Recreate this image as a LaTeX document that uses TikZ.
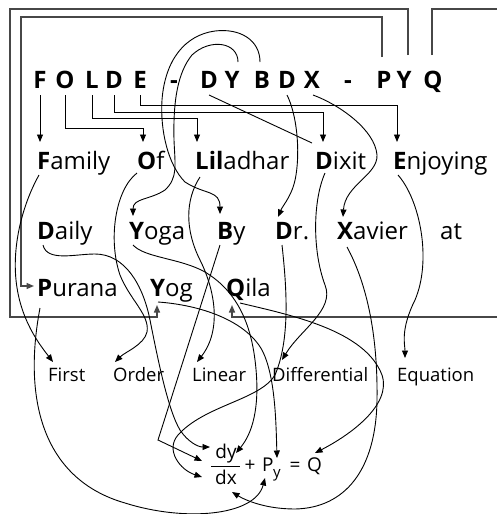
\documentclass[tikz,border=0pt]{standalone}
\usepackage{fontspec}
\setmainfont{Open Sans}
\usetikzlibrary{arrows.meta,calc}
\begin{document}
\begin{tikzpicture}[x=1pt,y=-1pt,
  ttl/.style={font=\fontsize{24}{28}\selectfont\bfseries, inner sep=0, anchor=base},
  wd/.style={font=\fontsize{24}{28}\selectfont, inner sep=0, anchor=base west},
  low/.style={font=\fontsize{18.5}{22}\selectfont, inner sep=0, anchor=base west},
  eqs/.style={font=\fontsize{19}{22}\selectfont, inner sep=0},
  frm/.style={draw=black!72, line width=1.5pt},
  lnk/.style={draw=black, line width=0.9pt},
  arr/.style={-{Triangle[length=7.5pt,width=6pt]}}]
\useasboundingbox (0,0) rectangle (496,514);
% title letters
\node[ttl] (tF) at (40,88) {F};
\node[ttl] (tO) at (65,88) {O};
\node[ttl] (tL) at (92,88) {L};
\node[ttl] (tD1) at (114,88) {D};
\node[ttl] (tE) at (140,88) {E};
\node[ttl] (tm1) at (174,88) {-};
\node[ttl] (tD2) at (209,88) {D};
\node[ttl] (tY1) at (232,88) {Y};
\node[ttl] (tB) at (262,88) {B};
\node[ttl] (tD3) at (287,88) {D};
\node[ttl] (tX) at (312,88) {X};
\node[ttl] (tm2) at (348,88) {-};
\node[ttl] (tP) at (384,88) {P};
\node[ttl] (tY2) at (404,88) {Y};
\node[ttl] (tQ) at (433,88) {Q};
% words
\node[wd] (Fam) at (37,169) {\textbf{F}amily};
\node[wd] (Of) at (137,169) {\textbf{O}f};
\node[wd] (Lil) at (195,169) {\textbf{Lil}adhar};
\node[wd] (Dix) at (315,169) {\textbf{D}ixit};
\node[wd] (Enj) at (393,169) {\textbf{E}njoying};
\node[wd] (Dai) at (37,239) {\textbf{D}aily};
\node[wd] (Yoga) at (129,239) {\textbf{Y}oga};
\node[wd] (By) at (217,239) {\textbf{B}y};
\node[wd] (Drn) at (275,239) {\textbf{D}r.};
\node[wd] (Xav) at (337,239) {\textbf{X}avier};
\node[wd] (At) at (440,239) {at};
\node[wd] (Pur) at (37,296) {\textbf{P}urana};
\node[wd] (Yog) at (150,296) {\textbf{Y}og};
\node[wd] (Qila) at (226,296) {\textbf{Q}ila};
\node[low] (Fst) at (48,381) {First};
\node[low] (Ord) at (113,381) {Order};
\node[low] (Lin) at (192,381) {Linear};
\node[low] (Dif) at (272,381) {Differential};
\node[low] (Equ) at (397,381) {Equation};
% equation
\node[eqs, anchor=base] (dy) at (226,458) {dy};
\node[eqs, anchor=base] (dxn) at (226,484) {dx};
\coordinate (barL) at (211,466);
\coordinate (barR) at (240,466);
\draw[lnk] (barL) -- (barR);
\node[eqs, anchor=base] (plus) at (250,471) {+};
\node[eqs, anchor=base west] (P) at (262,471) {P};
\node[eqs, anchor=base west, font=\fontsize{15}{18}\selectfont] (ysub) at (273,477) {y};
\node[eqs, anchor=base] (eqsign) at (295,471) {=};
\node[eqs, anchor=base west] (Qeq) at (307,471) {Q};
% frames
\draw[frm, arr] ($(tY2.base)+(4,-33)$) |- (10,9) |- ($(Yog.base west)+(7,21)$) -- ($(Yog.base west)+(7,9)$);
\draw[frm, arr] ($(tP.base)+(-2,-31)$) |- (21,17) |- ($(Pur.base west)+(-3,-10)$);
\draw[frm, arr] ($(tQ.base)+(-1,-33)$) |- (500,9) |- ($(Qila.base west)+(6,21)$) -- ($(Qila.base west)+(6,9)$);
% title to row 1
\draw[lnk, arr] ($(tF.base)+(0,7)$) -- ($(Fam.base west)+(3,-27)$);
\draw[lnk, arr] ($(tO.base)+(0,7)$) -- ++(0,33) -| ($(Of.base west)+(6,-27)$);
\draw[lnk, arr] ($(tL.base)+(0,7)$) -- ++(0,23) -| ($(Lil.base west)+(2,-27)$);
\draw[lnk, arr] ($(tD1.base)+(0,7)$) -- ++(0,17) -| ($(Dix.base west)+(8,-27)$);
\draw[lnk, arr] ($(tE.base)+(0,7)$) -- ++(0,10) -| ($(Enj.base west)+(4,-27)$);
\draw[lnk] ($(tD2.base)+(0,7)$) -- ($(Dix.base west)+(-3,-26)$);
% title to row 2
\draw[lnk, arr] ($(tY1.base)+(6,-26)$) .. controls +(0,-20) and (210,38) .. (192,55)
   .. controls (178,72) and (173,100) .. (174,140)
   .. controls (175,165) and (178,178) .. (165,190)
   .. controls (150,200) and (133,198) .. ($(Yoga.base west)+(4,-23)$);
\draw[lnk, arr] ($(tB.base)+(-2,-26)$) .. controls +(0,-22) and (240,28) .. (215,31)
   .. controls (185,35) and (165,60) .. (162,100)
   .. controls (160,130) and (168,165) .. (185,182)
   .. controls (205,195) and (220,190) .. ($(By.base west)+(3,-25)$);
\draw[lnk, arr] ($(tD3.base)+(0,7)$) .. controls +(10,20) and (300,150) .. (296,175)
   .. controls (293,195) and (283,205) .. ($(Drn.base west)+(3,-22)$);
\draw[lnk, arr] ($(tX.base)+(1,7)$) .. controls +(27,10) and (375,130) .. (377,155)
   .. controls (378,175) and (345,185) .. ($(Xav.base west)+(6,-22)$);
% row words to bottom words
\draw[lnk, arr] ($(Fam.base west)+(2,6)$) .. controls +(-14,25) and (12,240) .. (16,280)
   .. controls (20,320) and (40,345) .. ($(Fst.base west)+(5,-19)$);
\draw[lnk, arr] ($(Of.base west)+(0,4)$) .. controls +(-22,17) and (108,240) .. (120,275)
   .. controls (130,300) and (150,315) .. (147,332)
   .. controls (144,345) and (125,352) .. ($(Ord.base west)+(2,-19)$);
\draw[lnk, arr] ($(Lil.base west)+(5,8)$) .. controls +(-15,23) and (185,230) .. (200,260)
   .. controls (215,290) and (222,330) .. ($(Lin.base west)+(5,-19)$);
\draw[lnk, arr] ($(Dix.base west)+(10,4)$) .. controls +(-12,27) and (312,250) .. (325,285)
   .. controls (335,310) and (300,330) .. ($(Dif.base west)+(10,-21)$);
\draw[lnk, arr] ($(Enj.base west)+(5,6)$) .. controls +(22,25) and (432,260) .. (415,300)
   .. controls (400,330) and (405,345) .. ($(Equ.base west)+(8,-23)$);
% words to equation
\draw[lnk, arr] ($(Dai.base west)+(6,6)$) .. controls +(4,17) and (75,254) .. (95,254)
   .. controls (125,254) and (143,285) .. (150,320)
   .. controls (158,360) and (168,410) .. (180,430)
   .. controls (188,442) and (198,447) .. ($(dy.base)+(-16,-11)$);
\draw[lnk, arr] ($(Yoga.base west)+(4,6)$) .. controls +(12,13) and (180,258) .. (205,272)
   .. controls (235,290) and (250,320) .. (255,360)
   .. controls (260,400) and (255,430) .. ($(dy.base)+(10,-5)$);
\draw[lnk, arr] ($(By.base west)+(3,6)$) -- ++(-62,195) -- ($(barL)+(-9,-5)$);
\draw[lnk, arr] ($(Drn.base west)+(7,6)$) .. controls +(5,45) and (290,340) .. (275,375)
   .. controls (260,400) and (205,405) .. (178,435)
   .. controls (165,450) and (180,470) .. ($(dxn.base)+(-24,-7)$);
\draw[lnk, arr] ($(Xav.base west)+(10,8)$) .. controls +(18,33) and (378,330) .. (377,400)
   .. controls (376,470) and (345,508) .. (295,509)
   .. controls (265,509) and (245,500) .. ($(dxn.base)+(6,8)$);
\draw[lnk, arr] ($(Pur.base west)+(3,12)$) .. controls +(-18,95) and (45,480) .. (125,503)
   .. controls (185,522) and (255,516) .. ($(P.base west)+(3,7)$);
\draw[lnk, arr] ($(Yog.base west)+(8,6)$) .. controls +(42,3) and (245,320) .. (262,350)
   .. controls (275,375) and (276,420) .. ($(ysub.base west)+(4,-19)$);
\draw[lnk, arr] ($(Qila.base west)+(14,7)$) .. controls +(50,12) and (365,330) .. (382,375)
   .. controls (392,405) and (350,435) .. ($(Qeq.base west)+(8,-18)$);
\end{tikzpicture}
\end{document}
